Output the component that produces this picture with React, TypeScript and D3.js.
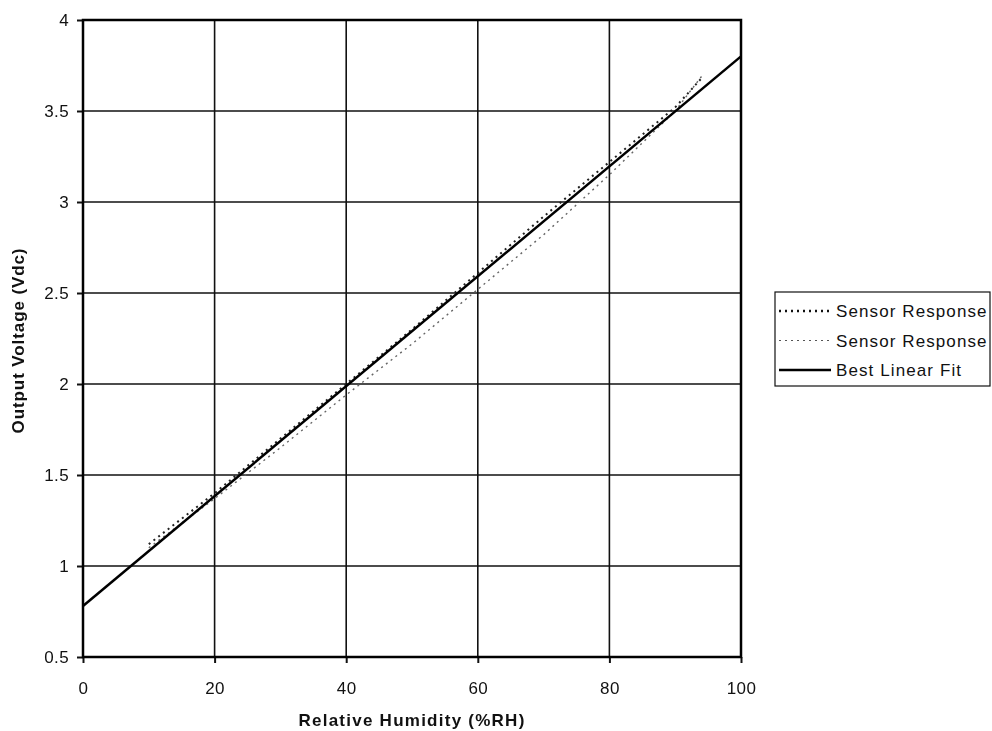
import React, { useEffect, useRef } from 'react';
import * as d3 from 'd3';

const humidity = [10, 20, 30, 40, 50, 60, 70, 80, 90, 94];
const sensorA = [1.12, 1.4, 1.7, 2.0, 2.3, 2.61, 2.92, 3.22, 3.52, 3.68];
const sensorB = [1.1, 1.37, 1.65, 1.94, 2.22, 2.52, 2.82, 3.15, 3.5, 3.69];
const fitX = [0, 100];
const fitY = [0.78, 3.8];
const xTicks = [0, 20, 40, 60, 80, 100];
const yTicks = [0.5, 1, 1.5, 2, 2.5, 3, 3.5, 4];
const legendLabels = ['Sensor Response', 'Sensor Response', 'Best Linear Fit'];

export default function App() {
  const ref = useRef<SVGSVGElement>(null);

  useEffect(() => {
    const svg = d3.select(ref.current);
    svg.selectAll('*').remove();
    const font = '"Liberation Sans", Arial, sans-serif';

    const left = 83, right = 741, top = 20, bottom = 657;
    const x = d3.scaleLinear().domain([0, 100]).range([left, right]);
    const y = d3.scaleLinear().domain([0.5, 4]).range([bottom, top]);

    // grid
    svg.append('g').selectAll('line')
      .data(xTicks.slice(1, -1))
      .enter().append('line')
      .attr('x1', d => x(d)).attr('x2', d => x(d))
      .attr('y1', top).attr('y2', bottom)
      .attr('stroke', '#111').attr('stroke-width', 1.6);
    svg.append('g').selectAll('line')
      .data(yTicks.slice(1, -1))
      .enter().append('line')
      .attr('x1', left).attr('x2', right)
      .attr('y1', d => y(d)).attr('y2', d => y(d))
      .attr('stroke', '#111').attr('stroke-width', 1.6);

    // axes
    const yAxis = svg.append('g')
      .attr('transform', `translate(${left},0)`)
      .call(d3.axisLeft(y).tickValues(yTicks).tickSize(6).tickSizeOuter(0).tickFormat(d3.format('')));
    const xAxis = svg.append('g')
      .attr('transform', `translate(0,${bottom})`)
      .call(d3.axisBottom(x).tickValues(xTicks).tickSize(6).tickSizeOuter(0).tickPadding(19));
    [yAxis, xAxis].forEach(g => {
      g.select('.domain').remove();
      g.selectAll('line').attr('stroke', '#111').attr('stroke-width', 2);
      g.selectAll('text').attr('font-family', font).attr('font-size', 17)
        .attr('letter-spacing', 0.4).attr('fill', '#111');
    });
    yAxis.selectAll('text').attr('x', -14).attr('dy', '0.35em');

    // frame
    svg.append('rect')
      .attr('x', left).attr('y', top)
      .attr('width', right - left).attr('height', bottom - top)
      .attr('fill', 'none').attr('stroke', '#000').attr('stroke-width', 2.5);

    const line = d3.line<[number, number]>().x(d => x(d[0])).y(d => y(d[1]));

    svg.append('path')
      .datum(humidity.map((h, i) => [h, sensorB[i]] as [number, number]))
      .attr('d', line).attr('fill', 'none')
      .attr('stroke', '#666').attr('stroke-width', 1.4).attr('stroke-dasharray', '2,4');
    svg.append('path')
      .datum(humidity.map((h, i) => [h, sensorA[i]] as [number, number]))
      .attr('d', line).attr('fill', 'none')
      .attr('stroke', '#222').attr('stroke-width', 2).attr('stroke-dasharray', '2,4');
    svg.append('path')
      .datum(fitX.map((h, i) => [h, fitY[i]] as [number, number]))
      .attr('d', line).attr('fill', 'none')
      .attr('stroke', '#000').attr('stroke-width', 2.5);

    // titles
    svg.append('text')
      .attr('x', (left + right) / 2).attr('y', 726)
      .attr('text-anchor', 'middle')
      .attr('font-family', font).attr('font-size', 17).attr('font-weight', 'bold')
      .attr('letter-spacing', 1.25).attr('fill', '#111')
      .text('Relative Humidity (%RH)');
    svg.append('text')
      .attr('transform', `translate(24,${(top + bottom) / 2 + 2}) rotate(-90)`)
      .attr('text-anchor', 'middle')
      .attr('font-family', font).attr('font-size', 17).attr('font-weight', 'bold')
      .attr('letter-spacing', 0.9).attr('fill', '#111')
      .text('Output Voltage (Vdc)');

    // legend
    const lg = svg.append('g').attr('transform', 'translate(775,292)');
    lg.append('rect').attr('x', 0).attr('y', 0).attr('width', 215).attr('height', 94)
      .attr('fill', '#fff').attr('stroke', '#111').attr('stroke-width', 1.2);
    const styles = [
      { c: '#111', w: 2.5, dash: '2,4' },
      { c: '#555', w: 1.2, dash: '2,4' },
      { c: '#000', w: 2.5, dash: null },
    ];
    legendLabels.forEach((lab, i) => {
      const yy = 19 + i * 29.5;
      const s = styles[i];
      lg.append('line').attr('x1', 4).attr('x2', 56).attr('y1', yy).attr('y2', yy)
        .attr('stroke', s.c).attr('stroke-width', s.w)
        .attr('stroke-dasharray', s.dash);
      lg.append('text').attr('x', 61).attr('y', yy).attr('dy', '0.36em')
        .attr('font-family', font).attr('font-size', 17).attr('letter-spacing', 1.1)
        .attr('fill', '#111')
        .text(lab);
    });
  });

  return (
    <svg
      ref={ref}
      width={992}
      height={731}
      style={{ position: 'fixed', left: 0, top: 0, display: 'block' }}
    />
  );
}
